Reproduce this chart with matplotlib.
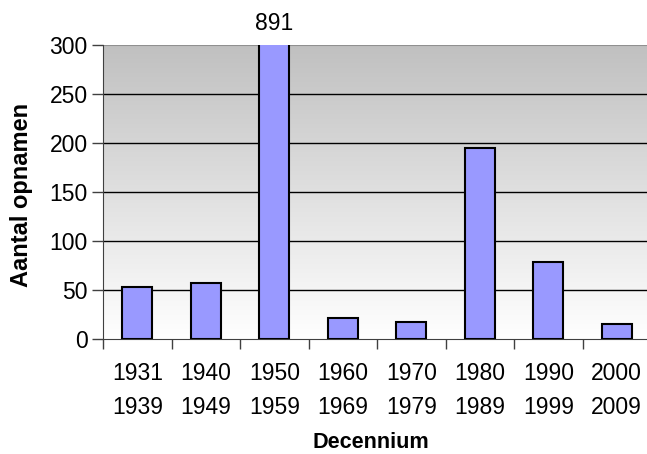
import numpy as np
import matplotlib
matplotlib.use('Agg')
import matplotlib.pyplot as plt
from matplotlib.colors import LinearSegmentedColormap

plt.rcParams['font.family'] = ['Liberation Sans', 'DejaVu Sans']

decades = ['1931\n1939', '1940\n1949', '1950\n1959', '1960\n1969',
           '1970\n1979', '1980\n1989', '1990\n1999', '2000\n2009']
counts = [53, 57, 891, 22, 18, 195, 79, 16]
y_ticks = [0, 50, 100, 150, 200, 250, 300]
y_max = 300

fig = plt.figure(figsize=(6.47, 4.54), dpi=100)
ax = fig.add_axes([0.1592, 0.2526, 0.847, 0.6483])

x = np.arange(len(decades))
ax.set_xlim(-0.5, len(decades) - 0.5)
ax.set_ylim(0, y_max)

# grey-to-white background
grad = np.linspace(0, 1, 256).reshape(-1, 1)
cmap = LinearSegmentedColormap.from_list('bg', ['#ffffff', '#c0c0c0'])
ax.imshow(grad, aspect='auto', cmap=cmap, origin='lower',
          extent=[-0.5, len(decades) - 0.5, 0, y_max], zorder=0)

for v in y_ticks[1:-1]:
    ax.axhline(v, color='black', lw=1.0, zorder=1)

bars = ax.bar(x, counts, width=0.44, color='#9999ff', edgecolor='black',
              linewidth=1.5, zorder=3)

# the 1950s bar runs off the scale, so print its value on top
i_big = int(np.argmax(counts))
ax.text(x[i_big], y_max + 10, str(counts[i_big]), ha='center', va='bottom',
        fontsize=16.5, clip_on=False)

ax.set_yticks(y_ticks)
ax.tick_params(axis='y', labelsize=16.5, length=8, width=1, color='#404040', pad=3)
ax.set_xticks(x)
ax.set_xticklabels(decades, fontsize=16.5, linespacing=1.65)
ax.tick_params(axis='x', length=0, pad=16)
ax.set_xticks(np.arange(-0.5, len(decades)), minor=True)
ax.tick_params(axis='x', which='minor', length=7, width=1, color='#404040')

for side in ['top', 'right']:
    ax.spines[side].set_visible(False)
ax.spines['left'].set_color('#404040')
ax.spines['bottom'].set_color('#404040')
ax.axhline(y_max, color='#909090', lw=1.5, zorder=1)

fig.text(371 / 647, 1 - 442 / 454, 'Decennium', ha='center', va='center',
         fontsize=15.6, fontweight='bold')
fig.text(22 / 647, 1 - 195 / 454, 'Aantal opnamen', ha='center', va='center',
         rotation=90, fontsize=17, fontweight='bold')

fig.savefig('out.png', dpi=100)
